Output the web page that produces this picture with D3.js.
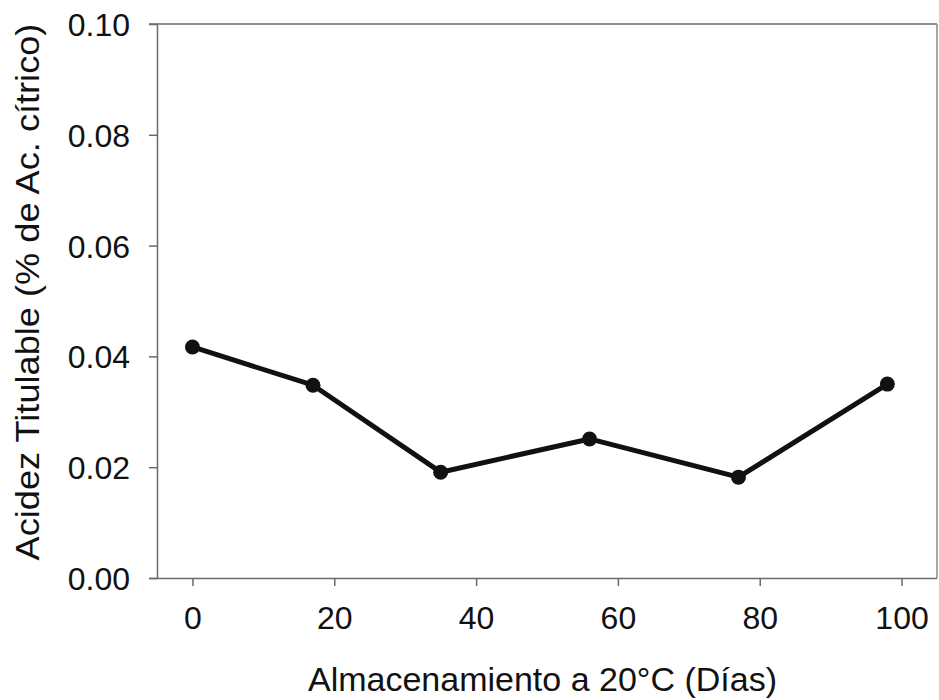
<!DOCTYPE html>
<html>
<head>
<meta charset="utf-8">
<script src="https://cdn.jsdelivr.net/npm/d3@7"></script>
<style>
  html, body { margin: 0; padding: 0; background: #ffffff; }
  svg { display: block; }
  text { font-family: "Liberation Sans", Arial, sans-serif; fill: #111; }
</style>
</head>
<body>
<svg id="chart" width="939" height="700"></svg>
<script>
// Data
const days = [0, 17, 35, 56, 77, 98];
const acidity = [0.0417, 0.0348, 0.0191, 0.0251, 0.0182, 0.0350];
const xTicks = [0, 20, 40, 60, 80, 100];
const yTicks = [0.00, 0.02, 0.04, 0.06, 0.08, 0.10];
const xTitle = "Almacenamiento a 20°C (Días)";
const yTitle = "Acidez Titulable (% de Ac. cítrico)";

const svg = d3.select("#chart");
const mLeft = 157, mRight = 937, mTop = 24, mBottom = 578;

const x = d3.scaleLinear().domain([-5, 105]).range([mLeft, mRight]);
const y = d3.scaleLinear().domain([0, 0.1]).range([mBottom, mTop]);

const axisColor = "#6a6a6a";

// frame: top and right lines
svg.append("line").attr("x1", mLeft - 8).attr("x2", mRight).attr("y1", mTop).attr("y2", mTop)
  .attr("stroke", axisColor).attr("stroke-width", 1.5);
svg.append("line").attr("x1", mRight).attr("x2", mRight).attr("y1", mTop).attr("y2", mBottom)
  .attr("stroke", "#8a8a8a").attr("stroke-width", 1.5);

// x axis
const gx = svg.append("g").attr("transform", `translate(0,${mBottom})`)
  .call(d3.axisBottom(x).tickValues(xTicks).tickFormat(d3.format("d")).tickSize(8).tickPadding(20).tickSizeOuter(0));
gx.select(".domain").attr("d", `M${mLeft - 8},0.5H${mRight}`);
// y axis
const gy = svg.append("g").attr("transform", `translate(${mLeft},0)`)
  .call(d3.axisLeft(y).tickValues(yTicks).tickFormat(d3.format(".2f")).tickSize(8).tickPadding(19).tickSizeOuter(0));

[gx, gy].forEach(g => {
  g.selectAll(".domain").attr("stroke", axisColor).attr("stroke-width", 1.5);
  g.selectAll(".tick line").attr("stroke", axisColor).attr("stroke-width", 1.5);
  g.selectAll(".tick text").attr("font-size", 32).attr("fill", "#111")
    .style("font-family", "'Liberation Sans', Arial, sans-serif");
});
gy.selectAll(".tick text").attr("dy", "0.36em");

// line
const line = d3.line().x((d, i) => x(days[i])).y(d => y(d));
svg.append("path").datum(acidity)
  .attr("d", line).attr("fill", "none").attr("stroke", "#111")
  .attr("stroke-width", 5).attr("stroke-linejoin", "round");

svg.selectAll("circle.pt").data(acidity).enter().append("circle")
  .attr("class", "pt")
  .attr("cx", (d, i) => x(days[i])).attr("cy", d => y(d))
  .attr("r", 7.5).attr("fill", "#111");

// titles
svg.append("text").attr("x", (305 + 780) / 2).attr("y", 691)
  .attr("text-anchor", "middle").attr("font-size", 34).text(xTitle);

svg.append("text")
  .attr("transform", `translate(39,292) rotate(-90) scale(1.08,1)`)
  .attr("text-anchor", "middle").attr("font-size", 33.5).text(yTitle);
</script>
</body>
</html>
